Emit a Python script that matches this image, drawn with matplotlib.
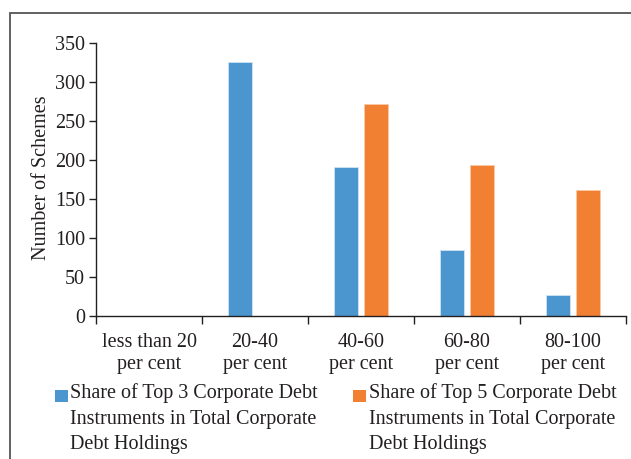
import numpy as np
from matplotlib import pyplot as plt
from matplotlib import patches

# chart data
categories = ["less than 20\nper cent", "20-40\nper cent", "40-60\nper cent",
              "60-80\nper cent", "80-100\nper cent"]
top3_values = [0, 325, 191, 84, 27]
top5_values = [0, 0, 271, 194, 162]
series_labels = ["Share of Top 3 Corporate Debt\nInstruments in Total Corporate\nDebt Holdings",
                 "Share of Top 5 Corporate Debt\nInstruments in Total Corporate\nDebt Holdings"]
y_ticks = [0, 50, 100, 150, 200, 250, 300, 350]

BLUE = "#4C96D0"
ORANGE = "#F28033"
INK = "#231F20"

plt.rcParams['font.family'] = ['Liberation Serif', 'DejaVu Serif']
plt.rcParams['font.size'] = 14.5

W, H = 631, 459
fig = plt.figure(figsize=(W / 100, H / 100), dpi=100)
ax = fig.add_axes([96 / W, 1 - 316 / H, 530 / W, (316 - 42.7) / H])

# outer frame around the whole exhibit
frame = patches.Rectangle((10 / W, -0.1), 1.2, 1 - 13 / H + 0.1,
                          transform=fig.transFigure, facecolor='none',
                          edgecolor='#555555', linewidth=1.3, clip_on=False)
fig.patches.append(frame)

x = np.arange(len(categories))
bar_w = 0.225
ax.bar(x - 0.142, top3_values, width=bar_w, color=BLUE,
       edgecolor='#cfe3f3', linewidth=0.6)
ax.bar(x + 0.142, top5_values, width=bar_w, color=ORANGE,
       edgecolor='#f8c9a6', linewidth=0.6)

ax.set_xlim(-0.5, len(categories) - 0.5)
ax.set_ylim(0, 350)
ax.set_yticks(y_ticks)
ax.set_xticks(x)
ax.set_xticklabels(categories, linespacing=1.25)
ax.set_xticks(np.arange(len(categories) + 1) - 0.5, minor=True)
ax.tick_params(axis='x', which='major', length=0, pad=12, colors=INK)
ax.tick_params(axis='x', which='minor', length=6, width=1, color=INK)
ax.tick_params(axis='y', length=5, width=1, color=INK, labelcolor=INK, pad=3)
ax.set_ylabel("Number of Schemes", color=INK)
ax.yaxis.set_label_coords(-0.085, 0.505)

for side in ['top', 'right']:
    ax.spines[side].set_visible(False)
for side in ['left', 'bottom']:
    ax.spines[side].set_color(INK)
    ax.spines[side].set_linewidth(1)

# legend drawn by hand so the swatch sits on the first text line
swatches = [(55, 70.5, BLUE), (353, 368.5, ORANGE)]
for (sx, tx, col), label in zip(swatches, series_labels):
    fig.patches.append(patches.Rectangle((sx / W, 1 - 402 / H), 13 / W, 12.5 / H,
                                         transform=fig.transFigure,
                                         facecolor=col, edgecolor='none'))
    fig.text(tx / W, 1 - 383.5 / H, label, ha='left', va='top',
             color=INK, linespacing=1.45)

fig.savefig("out.png", dpi=100)
